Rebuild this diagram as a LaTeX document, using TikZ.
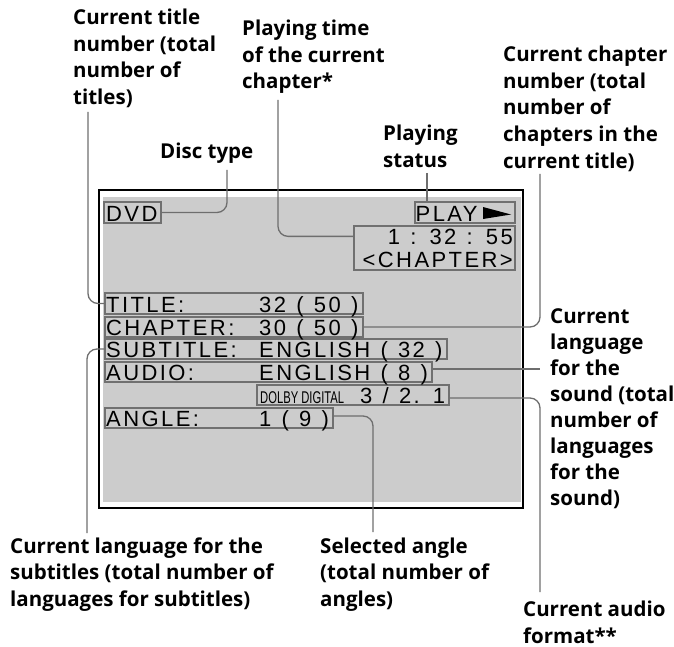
\documentclass[tikz,border=0pt]{standalone}
\usepackage{fontspec}
\usepackage{graphicx}
\setmainfont{Open Sans}
\newfontfamily\scrfont{Liberation Sans}[LetterSpace=11,WordSpace=1.2]
\newfontfamily\dolbyfont{Liberation Sans}
\definecolor{scrgray}{HTML}{CCCCCC}
\definecolor{boxgray}{HTML}{707070}
\definecolor{linegray}{HTML}{6E6E6E}
\tikzset{
  lbl/.style={font=\bfseries\fontsize{20.5}{26.5}\selectfont, align=left, anchor=base west, inner sep=0pt},
  scrbox/.style={draw=boxgray, line width=1.3pt, inner sep=0pt},
  scrtxt/.style={font=\scrfont\fontsize{22}{26}\selectfont, anchor=base west, inner sep=0pt},
  conn/.style={draw=linegray, line width=1.3pt, rounded corners=10pt}
}
\begin{document}
\begin{tikzpicture}[x=1pt,y=-1pt]
\useasboundingbox (0,0) rectangle (674,647);
% screen
\draw[line width=1.5pt] (99,190) rectangle (523,508);
\fill[scrgray] (103,197) rectangle (521,502);
% boxes
\node[scrbox, minimum width=57pt, minimum height=21pt] (dvd) at (132.5,212.5) {};
\node[scrbox, minimum width=100pt, minimum height=21pt] (play) at (465,212.5) {};
\node[scrbox, minimum width=161pt, minimum height=44pt] (time) at (434.5,248) {};
\node[scrbox, minimum width=258pt, minimum height=21pt] (title) at (234,303.5) {};
\node[scrbox, minimum width=258pt, minimum height=20pt] (chap) at (234,327) {};
\node[scrbox, minimum width=342pt, minimum height=20pt] (sub) at (276,349) {};
\node[scrbox, minimum width=327pt, minimum height=20pt] (audio) at (268.5,372) {};
\node[scrbox, minimum width=192pt, minimum height=20pt] (dolby) at (353,395) {};
\node[scrbox, minimum width=228pt, minimum height=20pt] (angle) at (219,418) {};
% screen texts
\node[scrtxt] (tdvd) at (106,221) {DVD};
\node[scrtxt] (tplay) at (415.5,221) {PLAY};
\fill (483,207) -- (483,219) -- (511,214.5) -- cycle;
\node[scrtxt, anchor=base east] (ttime) at (513,244) {1 : 32 : 55};
\node[scrtxt, anchor=base east] (tchapt) at (513,267) {<CHAPTER>};
\node[scrtxt] (ttitle) at (106,312) {TITLE:};
\node[scrtxt] (vtitle) at (259,312) {32 ( 50 )};
\node[scrtxt] (tchap) at (106,335) {CHAPTER:};
\node[scrtxt] (vchap) at (259,335) {30 ( 50 )};
\node[scrtxt] (tsub) at (106,357) {SUBTITLE:};
\node[scrtxt] (vsub) at (259,357) {ENGLISH ( 32 )};
\node[scrtxt] (taudio) at (106,380) {AUDIO:};
\node[scrtxt] (vaudio) at (259,380) {ENGLISH ( 8 )};
\node[anchor=base west, inner sep=0pt, font=\dolbyfont\fontsize{17}{20}\selectfont] (tdolby) at (260,403) {\scalebox{0.66}[1]{DOLBY DIGITAL}};
\node[scrtxt] (vdolby) at (360,403) {3 / 2. 1};
\node[scrtxt] (tangle) at (106,426) {ANGLE:};
\node[scrtxt] (vangle) at (259,426) {1 ( 9 )};
% labels (base = last line)
\node[lbl] (lttl) at (73,104.5) {Current title\\number (total\\number of\\titles)};
\node[lbl] (ldisc) at (160,159) {Disc type};
\node[lbl] (lptime) at (242,89) {Playing time\\of the current\\chapter*};
\node[lbl] (lpstat) at (383,167.5) {Playing\\status};
\node[lbl] (lcchap) at (503,168) {Current chapter\\number (total\\number of\\chapters in the\\current title)};
\node[lbl, font=\bfseries\fontsize{20.5}{26}\selectfont] (lsnd) at (550,505) {Current\\language\\for the\\sound (total\\number of\\languages\\for the\\sound)};
\node[lbl] (lsub) at (10,606) {Current language for the\\subtitles (total number of\\languages for subtitles)};
\node[lbl] (langl) at (320,606) {Selected angle\\(total number of\\angles)};
\node[lbl] (lafmt) at (523,643) {Current audio\\format**};
% connector ends
\coordinate (cdisc) at (227,170);
\coordinate (cptime) at (278,100);
\coordinate (cpstat) at (427,173);
\coordinate (ccchap) at (540,174);
\coordinate (cttl) at (88,112);
\coordinate (csub) at (87,533);
\coordinate (csnd) at (540,369);
\coordinate (cafmt) at (540,592);
\coordinate (cangl) at (373,532);
% connectors
\draw[conn] (cdisc) |- (dvd.east);
\draw[conn] (cptime) |- ([yshift=-11pt]time.north west);
\draw[conn] (cpstat) -- (cpstat |- play.north);
\draw[conn] (chap.east) -| (ccchap);
\draw[conn] (cttl) |- (title.west);
\draw[conn] (sub.west) -| (csub);
\draw[conn] ([yshift=3pt]audio.east) -- (csnd);
\draw[conn] ([yshift=-3pt]dolby.east) -| (cafmt);
\draw[conn] ([yshift=2pt]angle.east) -| (cangl);
\end{tikzpicture}
\end{document}
